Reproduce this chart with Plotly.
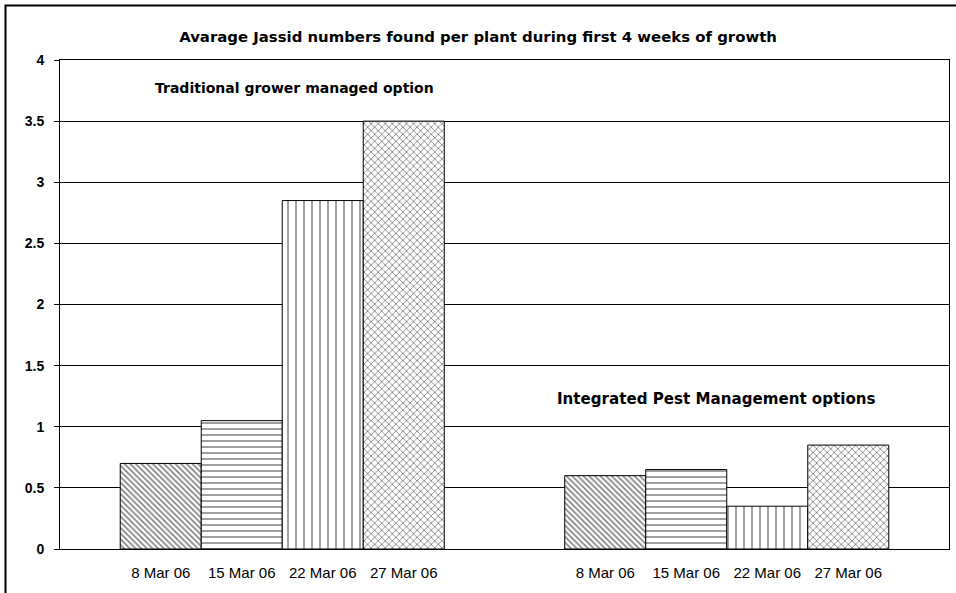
import plotly.graph_objects as go

groups = ["Traditional grower managed option", "Integrated Pest Management options"]
dates = ["8 Mar 06", "15 Mar 06", "22 Mar 06", "27 Mar 06"]
values = {
    "8 Mar 06": [0.7, 0.6],
    "15 Mar 06": [1.05, 0.65],
    "22 Mar 06": [2.85, 0.35],
    "27 Mar 06": [3.5, 0.85],
}
y_ticks = [0, 0.5, 1, 1.5, 2, 2.5, 3, 3.5, 4]
title = "Avarage Jassid numbers found per plant during first 4 weeks of growth"

patterns = [
    dict(shape="\\", size=4, solidity=0.4),
    dict(shape="-", size=6, solidity=0.25),
    dict(shape="|", size=8, solidity=0.18),
    dict(shape="x", size=5, solidity=0.3),
]

BOLD_FONT = "DejaVu Sans, Verdana, sans-serif"
ARIAL = "Liberation Sans, Arial, sans-serif"

BARGAP = 0.271
n = len(dates)
w = (1 - BARGAP) / n

fig = go.Figure()
for i, d in enumerate(dates):
    p = patterns[i]
    fig.add_trace(go.Bar(
        x=list(range(len(groups))), y=values[d], name=d,
        marker=dict(color="white", line=dict(color="black", width=1),
                    pattern=dict(shape=p["shape"], size=p["size"], solidity=p["solidity"],
                                 fgcolor="black", bgcolor="white", fillmode="overlay")),
    ))

tickvals, ticktext = [], []
for g in range(len(groups)):
    for i, d in enumerate(dates):
        tickvals.append(g + (i - (n - 1) / 2) * w)
        ticktext.append(d)

fig.update_layout(
    width=956, height=593,
    margin=dict(l=60, r=7, t=60, b=44),
    paper_bgcolor="white", plot_bgcolor="white",
    barmode="group", bargap=BARGAP, bargroupgap=0,
    showlegend=False,
    font=dict(family=ARIAL, color="black", size=12),
    title=dict(text="<b>" + title + "</b>", x=0.5, xanchor="center", y=1 - 37 / 593, yanchor="middle",
               font=dict(size=14.9, family=BOLD_FONT)),
    xaxis=dict(range=[-0.5, 1.5], tickvals=tickvals, ticktext=ticktext, showgrid=False,
               showline=True, linecolor="black", linewidth=1, mirror=True, ticks="",
               ticklabelstandoff=10, zeroline=False, tickfont=dict(size=15, family=ARIAL)),
    yaxis=dict(range=[0, 4], tickvals=y_ticks, ticktext=[f"<b>{v:g}</b>" for v in y_ticks],
               showgrid=True, gridcolor="black", gridwidth=1,
               showline=True, linecolor="black", linewidth=1, mirror=True,
               ticks="outside", ticklen=5, tickcolor="black", ticklabelstandoff=7,
               zeroline=False, tickfont=dict(size=14, family=ARIAL)),
)

fig.add_annotation(text="<b>" + groups[0] + "</b>", xref="paper", yref="y", x=(153 - 60) / 889, y=3.775,
                   xanchor="left", yanchor="middle", showarrow=False,
                   font=dict(size=14, family=BOLD_FONT))
fig.add_annotation(text="<b>" + groups[1] + "</b>", xref="paper", yref="y", x=(555 - 60) / 889, y=1.227,
                   xanchor="left", yanchor="middle", showarrow=False,
                   font=dict(size=15.1, family=BOLD_FONT))

fig.add_shape(type="rect", xref="paper", yref="paper",
              x0=(5.5 - 60) / 889, x1=1.2, y0=-0.3, y1=1 + (60 - 5.5) / 489,
              line=dict(color="black", width=2), fillcolor="rgba(0,0,0,0)", layer="above")

fig.write_html("out.html", config={"displayModeBar": False},
               post_script="document.body.style.margin='0';")
